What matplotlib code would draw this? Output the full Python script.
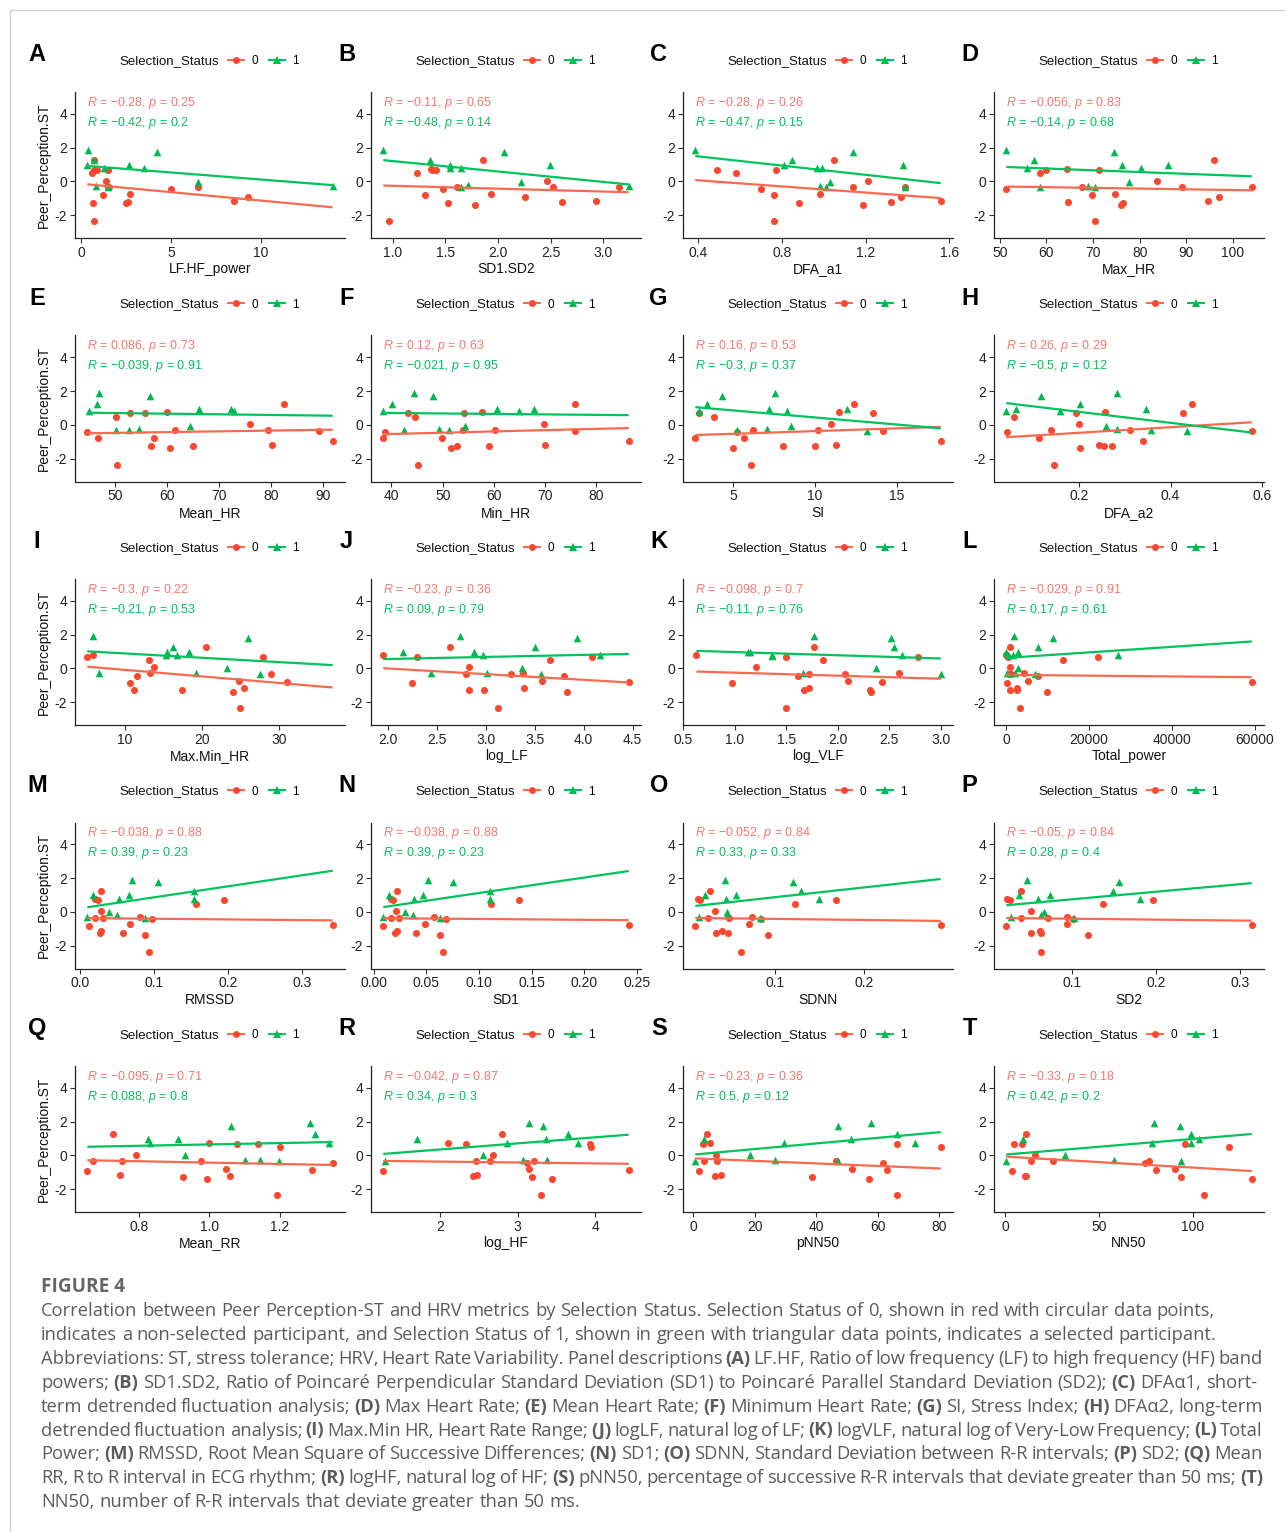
import re

import numpy as np
import matplotlib
matplotlib.use("Agg")
import matplotlib.pyplot as plt
from matplotlib import font_manager
from matplotlib.lines import Line2D
from matplotlib.patches import Rectangle


def _pick(names):
    have = {f.name for f in font_manager.fontManager.ttflist}
    for n in names:
        if n in have:
            return n
    return "DejaVu Sans"


PLOT_FONT = _pick(["Liberation Sans Narrow", "Liberation Sans", "Arial"])
BOLD_FONT = _pick(["Liberation Sans", "Arial"])
CAP_FONT = _pick(["Open Sans", "Lato", "Noto Sans"])

plt.rcParams["font.family"] = [PLOT_FONT, "DejaVu Sans"]
plt.rcParams["mathtext.fontset"] = "custom"
plt.rcParams["mathtext.rm"] = PLOT_FONT
plt.rcParams["mathtext.it"] = PLOT_FONT + ":italic"

RED_PT = "#F9482F"
RED_LN = "#F86A50"
RED_TXT = "#F8766D"
GRN_PT = "#00B84E"
GRN_LN = "#00C25C"
GRN_TXT = "#00C060"

# ---- data (group 0 = red circles, group 1 = green triangles)
lfhf_x0 = [0.7, 0.6, 0.7, 0.9, 1.5, 1.4, 1.5, 1.55, 1.2, 0.65, 0.7, 2.5, 2.6, 2.7, 5.0, 6.5, 8.5, 9.3]
lfhf_y0 = [1.27, 0.5, 0.7, 0.7, 0.7, 0.05, -0.3, -0.35, -0.78, -1.27, -2.35, -1.27, -1.2, -0.75, -0.43, -0.35, -1.18, -0.93]
lfhf_x1 = [0.4, 0.35, 0.75, 0.85, 1.27, 1.5, 2.67, 3.5, 4.2, 6.5, 14.0]
lfhf_y1 = [1.88, 0.95, 1.27, -0.25, 0.8, -0.35, 0.95, 0.8, 1.72, -0.05, -0.27]

sd12_x0 = [0.96, 1.23, 1.31, 1.36, 1.37, 1.41, 1.48, 1.52, 1.61, 1.78, 1.86, 1.93, 2.26, 2.46, 2.52, 2.61, 2.93, 3.15]
sd12_y0 = [-2.35, 0.5, -0.78, 0.75, 0.7, 0.7, -0.43, -1.27, -0.3, -1.37, 1.27, -0.75, -0.93, 0.05, -0.35, -1.22, -1.18, -0.35]
sd12_x1 = [0.91, 1.35, 1.54, 1.54, 1.65, 1.65, 1.71, 2.06, 2.22, 2.49, 3.24]
sd12_y1 = [1.88, 1.27, 0.95, 0.8, 0.8, -0.35, -0.2, 1.72, -0.05, 0.95, -0.27]

dfa1_x0 = [0.49, 0.58, 0.70, 0.76, 0.77, 0.76, 0.88, 0.98, 1.05, 1.14, 1.19, 1.21, 1.32, 1.37, 1.39, 1.56]
dfa1_y0 = [0.7, 0.5, -0.43, -0.78, 0.7, -2.35, -1.27, -0.75, 1.27, -0.35, -1.37, 0.05, -1.22, -0.93, -0.35, -1.18]
dfa1_x1 = [0.385, 0.81, 0.85, 0.97, 0.99, 0.98, 1.01, 1.03, 1.14, 1.38, 1.39]
dfa1_y1 = [1.88, 0.95, 1.27, 0.8, 0.8, -0.25, -0.35, -0.05, 1.72, 0.95, -0.3]

maxhr_x0 = [51.4, 58.6, 60, 64.4, 64.7, 67.6, 69.7, 70.4, 71.3, 74.8, 75.9, 76.5, 83.7, 89, 94.7, 96, 96.9, 104]
maxhr_y0 = [-0.43, 0.5, 0.7, 0.75, -1.22, -0.3, -0.78, -2.35, 0.7, -0.75, -1.37, -1.27, 0.05, -0.35, -1.18, 1.27, -0.93, -0.35]
maxhr_x1 = [51.4, 55.9, 57.3, 58.7, 68.9, 70.4, 74.4, 76.3, 77.8, 80.2, 86.1]
maxhr_y1 = [1.88, 0.8, 1.27, -0.3, -0.25, -0.35, 1.72, 0.95, -0.05, 0.8, 0.95]

meanhr_x0 = [44.6, 46.6, 50.2, 50.4, 52.8, 55.7, 56.9, 57.5, 60, 60.5, 61.5, 65, 75.8, 79.4, 80.2, 82.5, 89.1, 91.8]
meanhr_y0 = [-0.43, -0.78, 0.5, -2.35, 0.7, 0.7, -1.22, -0.75, 0.75, -1.37, -0.3, -1.27, 0.05, -0.3, -1.18, 1.27, -0.35, -0.93]
meanhr_x1 = [45, 46.4, 46.9, 50.2, 52.7, 54.6, 56.7, 64.4, 66, 72.3, 72.8]
meanhr_y1 = [0.8, 1.27, 1.88, -0.3, -0.3, -0.25, 1.72, -0.05, 0.95, 0.95, 0.8]

minhr_x0 = [38.4, 38.8, 43.2, 44.6, 45.2, 49.9, 51.7, 52.7, 54, 54.2, 57.7, 60.3, 59, 69.8, 69.9, 75.8, 75.8, 86.3]
minhr_y0 = [-0.78, -0.43, 0.7, 0.5, -2.35, -0.78, -1.37, -1.22, -0.3, 0.7, 0.75, -0.3, -1.27, 0.05, -1.18, 1.27, -0.35, -0.93]
minhr_x1 = [38.4, 40.2, 42.5, 44.4, 48.2, 51.3, 49.2, 54.4, 60.5, 64.8, 67.8]
minhr_y1 = [0.8, 1.27, -0.3, 1.88, 1.72, -0.3, -0.25, -0.05, 0.95, 0.8, 0.95]

si_x0 = [2.7, 2.95, 3.85, 5, 5.24, 5.65, 6.1, 6.2, 8.06, 10, 10.2, 11, 11.3, 11.5, 12.4, 13.55, 14.2, 17.7]
si_y0 = [-0.78, 0.7, 0.5, -1.37, -0.43, -0.75, -2.35, -0.3, -1.27, -1.22, -0.3, 0.05, -1.18, 0.75, 1.27, 0.7, -0.35, -0.93]
si_x1 = [2.9, 3.4, 4.35, 5.24, 7.1, 7.2, 7.6, 8.3, 8.55, 12, 13.2]
si_y1 = [0.8, 1.27, 1.72, -0.3, -0.25, 0.95, 1.88, 0.8, -0.05, 0.95, -0.35]

dfa2_x0 = [0.044, 0.058, 0.113, 0.14, 0.147, 0.195, 0.2, 0.203, 0.245, 0.255, 0.258, 0.272, 0.311, 0.341, 0.428, 0.446, 0.577]
dfa2_y0 = [-0.43, 0.5, -0.78, -0.3, -2.35, 0.7, 0.05, -1.37, -1.18, -1.27, 0.75, -1.22, -0.3, -0.93, 0.7, 1.27, -0.35]
dfa2_x1 = [0.042, 0.064, 0.118, 0.159, 0.203, 0.26, 0.284, 0.284, 0.346, 0.357, 0.436]
dfa2_y1 = [0.8, 0.95, 1.72, 0.8, 1.27, -0.05, 1.88, -0.25, 0.95, -0.3, -0.35]

mmhr_x0 = [5.1, 5.9, 10.7, 11.2, 11.6, 13.1, 13.2, 13.8, 17.4, 20.5, 24, 24.8, 24.9, 25.5, 27.9, 29, 31]
mmhr_y0 = [0.7, 0.8, -0.88, -1.25, -0.45, 0.5, -0.25, 0.1, -1.3, 1.27, -1.4, -0.75, -2.37, -1.15, 0.7, -0.3, -0.8]
mmhr_x1 = [5.9, 6.6, 15.3, 15.5, 16.3, 16.7, 18.3, 19.2, 23.2, 26, 27.5]
mmhr_y1 = [1.95, -0.28, 0.8, 1.0, 1.27, 0.8, 1.0, -0.25, 0.0, 1.78, -0.35]

loglf_x0 = [1.95, 2.24, 2.3, 2.63, 2.8, 2.83, 2.83, 2.98, 3.12, 3.26, 3.38, 3.39, 3.57, 3.65, 3.8, 3.83, 4.08, 4.46]
loglf_y0 = [0.8, -0.88, 0.7, 1.27, -0.3, 0.1, -1.25, -1.3, -2.37, -0.3, -0.25, -1.15, -0.75, 0.5, -0.45, -1.4, 0.7, -0.8]
loglf_x1 = [2.15, 2.44, 2.73, 2.88, 2.97, 3.01, 3.37, 3.5, 3.56, 3.93, 4.17]
loglf_y1 = [1.0, -0.28, 1.95, 1.0, 0.8, -0.25, 0.0, 1.27, -0.35, 1.78, 0.8]

logvlf_x0 = [0.63, 0.98, 1.21, 1.5, 1.5, 1.62, 1.67, 1.72, 1.72, 1.77, 1.86, 2.07, 2.1, 2.31, 2.32, 2.43, 2.59, 2.78]
logvlf_y0 = [0.8, -0.88, 0.1, 0.7, -2.37, -0.45, -1.3, -1.15, -0.3, 1.27, 0.5, -0.3, -0.75, -1.25, -1.4, -0.8, -0.25, 0.7]
logvlf_x1 = [1.13, 1.15, 1.36, 1.36, 1.66, 1.77, 2.37, 2.52, 2.55, 2.62, 3.0]
logvlf_y1 = [1.0, 0.95, 0.8, 0.75, -0.25, 1.95, 0.0, 1.78, 1.27, 0.8, -0.35]

tp_x0 = [0, 100, 300, 950, 950, 950, 1240, 760, 2480, 2670, 3330, 4290, 5240, 7620, 9810, 13700, 22200, 59300]
tp_y0 = [0.8, -0.88, 0.7, 1.27, 0.1, -1.25, -0.3, -0.35, -1.3, -1.15, -2.37, -0.25, -0.75, -0.45, -1.4, 0.5, 0.7, -0.8]
tp_x1 = [0, 100, 480, 1520, 1900, 2190, 2860, 2860, 6950, 7710, 11400, 27000]
tp_y1 = [1.0, -0.25, 0.8, 0.8, 1.95, -0.25, 1.0, 0.0, -0.35, 1.27, 1.78, 0.8]

rmssd_x0 = [0.013, 0.02, 0.024, 0.02, 0.027, 0.028, 0.029, 0.029, 0.031, 0.058, 0.068, 0.081, 0.088, 0.093, 0.097, 0.157, 0.195, 0.342]
rmssd_y0 = [-0.86, 0.75, 0.7, -0.33, -1.22, 0.05, -1.12, 1.27, -0.33, -1.25, -0.73, -0.3, -1.35, -2.35, -0.43, 0.5, 0.7, -0.77]
rmssd_x1 = [0.01, 0.018, 0.04, 0.05, 0.053, 0.066, 0.071, 0.088, 0.106, 0.155, 0.155]
rmssd_y1 = [-0.28, 0.98, 0.0, -0.2, 0.75, 1.0, 1.92, -0.33, 1.77, 1.27, 0.75]

sd1_x0 = [0.009, 0.016, 0.018, 0.016, 0.02, 0.021, 0.022, 0.022, 0.024, 0.04, 0.049, 0.057, 0.063, 0.066, 0.069, 0.111, 0.138, 0.242]
sd1_y0 = [-0.86, 0.75, 0.7, -0.33, -1.22, 0.05, -1.12, 1.27, -0.33, -1.25, -0.73, -0.3, -1.35, -2.35, -0.43, 0.5, 0.7, -0.77]
sd1_x1 = [0.009, 0.014, 0.03, 0.037, 0.038, 0.047, 0.051, 0.063, 0.075, 0.11, 0.11]
sd1_y1 = [-0.28, 0.98, 0.0, -0.2, 0.75, 1.0, 1.92, -0.33, 1.77, 1.27, 0.75]

sdnn_x0 = [0.011, 0.014, 0.016, 0.025, 0.027, 0.033, 0.034, 0.041, 0.048, 0.049, 0.062, 0.071, 0.074, 0.085, 0.092, 0.123, 0.169, 0.286]
sdnn_y0 = [-0.86, 0.75, 0.7, -0.33, 1.27, 0.05, -1.22, -1.12, -1.25, -0.33, -2.35, -0.73, -0.3, -0.43, -1.35, 0.5, 0.7, -0.77]
sdnn_x1 = [0.015, 0.022, 0.044, 0.045, 0.047, 0.047, 0.057, 0.083, 0.121, 0.13, 0.15]
sdnn_y1 = [-0.28, 0.98, 1.92, 0.75, 0.0, -0.2, 1.0, -0.33, 1.77, 1.27, 0.75]

sd2_x0 = [0.021, 0.022, 0.025, 0.038, 0.039, 0.05, 0.051, 0.061, 0.062, 0.063, 0.071, 0.094, 0.094, 0.101, 0.119, 0.137, 0.196, 0.314]
sd2_y0 = [-0.86, 0.75, 0.7, -0.33, 1.27, 0.05, -1.22, -1.12, -1.25, -2.35, -0.33, -0.3, -0.73, -0.43, -1.35, 0.5, 0.7, -0.77]
sd2_x1 = [0.027, 0.036, 0.046, 0.059, 0.063, 0.066, 0.073, 0.102, 0.148, 0.155, 0.181]
sd2_y1 = [-0.28, 0.98, 1.92, 0.75, -0.2, 0.0, 1.0, -0.33, 1.27, 1.77, 0.75]

meanrr_x0 = [0.653, 0.669, 0.725, 0.746, 0.752, 0.79, 0.925, 0.977, 0.994, 1.0, 1.046, 1.057, 1.078, 1.138, 1.192, 1.2, 1.29, 1.35]
meanrr_y0 = [-0.93, -0.35, 1.28, -1.17, -0.35, 0.05, -1.27, -0.3, -1.37, 0.75, -0.8, -1.22, 0.7, 0.7, -2.37, 0.5, -0.85, -0.45]
meanrr_x1 = [0.826, 0.83, 0.91, 0.93, 1.06, 1.10, 1.144, 1.197, 1.286, 1.3, 1.338]
meanrr_y1 = [0.98, 0.75, 0.98, 0.0, 1.75, -0.25, -0.28, -0.3, 1.93, 1.25, 0.75]

loghf_x0 = [1.27, 2.1, 2.33, 2.42, 2.46, 2.48, 2.64, 2.68, 2.8, 3.12, 3.15, 3.19, 3.21, 3.3, 3.44, 3.93, 3.95, 4.43]
loghf_y0 = [-0.93, 0.75, 0.7, -1.22, -0.35, -1.17, -0.35, 0.05, 1.28, -0.45, -0.8, -1.27, -0.3, -2.37, -1.37, 0.7, 0.5, -0.85]
loghf_x1 = [1.29, 1.71, 2.56, 2.86, 3.07, 3.15, 3.33, 3.37, 3.38, 3.65, 3.78]
loghf_y1 = [-0.3, 0.98, 0.0, 0.75, -0.25, 1.93, 1.75, 0.98, -0.28, 1.25, 0.75]

pnn50_x0 = [1.7, 3.2, 3.6, 4.5, 5.3, 7.1, 7.4, 7.7, 9.0, 38.5, 46.3, 51.7, 57.2, 61.7, 62.9, 66.2, 66.2, 80.5]
pnn50_y0 = [-0.93, 0.7, -0.35, 1.28, 0.75, -1.22, 0.05, -0.35, -1.17, -1.27, -0.3, -0.8, -1.37, -0.45, -0.85, 0.7, -2.37, 0.5]
pnn50_x1 = [0.6, 3.6, 18.3, 26.4, 29.5, 46.9, 47.2, 51.4, 57.7, 66.2, 72.2]
pnn50_y1 = [-0.3, 0.98, 0.0, -0.25, 0.75, 1.75, -0.33, 0.98, 1.93, 1.25, 0.75]

nn50_x0 = [3.6, 4.6, 8.8, 10.5, 10.9, 10.9, 13.7, 15.8, 25.3, 74.7, 76.8, 80.4, 90.5, 94.1, 95.8, 106.3, 119.4, 131.6]
nn50_y0 = [-0.93, 0.7, 0.7, -1.2, -1.22, 1.28, -0.35, 0.05, -0.35, -0.45, -0.3, -0.85, -0.8, -1.27, 0.7, -2.37, 0.5, -1.37]
nn50_x1 = [0.6, 9.5, 32.2, 57.9, 78.5, 79.6, 93.3, 94.1, 99, 99, 103.2]
nn50_y1 = [-0.3, 0.95, 0.0, -0.25, 0.75, 1.93, 1.75, -0.33, 1.25, 0.75, 0.98]

PANEL_LETTERS = list("ABCDEFGHIJKLMNOPQRST")
X_LABELS = ["LF.HF_power", "SD1.SD2", "DFA_a1", "Max_HR", "Mean_HR", "Min_HR", "SI", "DFA_a2",
            "Max.Min_HR", "log_LF", "log_VLF", "Total_power", "RMSSD", "SD1", "SDNN", "SD2",
            "Mean_RR", "log_HF", "pNN50", "NN50"]
X_TICKS = [
    ["0", "5", "10"], ["1.0", "1.5", "2.0", "2.5", "3.0"], ["0.4", "0.8", "1.2", "1.6"],
    ["50", "60", "70", "80", "90", "100"], ["50", "60", "70", "80", "90"], ["40", "50", "60", "70", "80"],
    ["5", "10", "15"], ["0.2", "0.4", "0.6"], ["10", "20", "30"],
    ["2.0", "2.5", "3.0", "3.5", "4.0", "4.5"], ["0.5", "1.0", "1.5", "2.0", "2.5", "3.0"],
    ["0", "20000", "40000", "60000"], ["0.0", "0.1", "0.2", "0.3"],
    ["0.00", "0.05", "0.10", "0.15", "0.20", "0.25"], ["0.1", "0.2"], ["0.1", "0.2", "0.3"],
    ["0.8", "1.0", "1.2"], ["2", "3", "4"], ["0", "20", "40", "60", "80"], ["0", "50", "100"],
]
# x value seen by the scale but with no point drawn (Max.Min_HR reaches 37)
X_EXTENT = [None] * 8 + [37.0] + [None] * 11

R_RED = ["−0.28", "−0.11", "−0.28", "−0.056", "0.086", "0.12", "0.16", "0.26", "−0.3", "−0.23",
         "−0.098", "−0.029", "−0.038", "−0.038", "−0.052", "−0.05", "−0.095", "−0.042", "−0.23", "−0.33"]
P_RED = ["0.25", "0.65", "0.26", "0.83", "0.73", "0.63", "0.53", "0.29", "0.22", "0.36",
         "0.7", "0.91", "0.88", "0.88", "0.84", "0.84", "0.71", "0.87", "0.36", "0.18"]
R_GRN = ["−0.42", "−0.48", "−0.47", "−0.14", "−0.039", "−0.021", "−0.3", "−0.5", "−0.21", "0.09",
         "−0.11", "0.17", "0.39", "0.39", "0.33", "0.28", "0.088", "0.34", "0.5", "0.42"]
P_GRN = ["0.2", "0.14", "0.15", "0.68", "0.91", "0.95", "0.37", "0.12", "0.53", "0.79",
         "0.76", "0.61", "0.23", "0.23", "0.33", "0.4", "0.8", "0.3", "0.12", "0.2"]

PANELS = [
    (lfhf_x0, lfhf_y0, lfhf_x1, lfhf_y1), (sd12_x0, sd12_y0, sd12_x1, sd12_y1),
    (dfa1_x0, dfa1_y0, dfa1_x1, dfa1_y1), (maxhr_x0, maxhr_y0, maxhr_x1, maxhr_y1),
    (meanhr_x0, meanhr_y0, meanhr_x1, meanhr_y1), (minhr_x0, minhr_y0, minhr_x1, minhr_y1),
    (si_x0, si_y0, si_x1, si_y1), (dfa2_x0, dfa2_y0, dfa2_x1, dfa2_y1),
    (mmhr_x0, mmhr_y0, mmhr_x1, mmhr_y1), (loglf_x0, loglf_y0, loglf_x1, loglf_y1),
    (logvlf_x0, logvlf_y0, logvlf_x1, logvlf_y1), (tp_x0, tp_y0, tp_x1, tp_y1),
    (rmssd_x0, rmssd_y0, rmssd_x1, rmssd_y1), (sd1_x0, sd1_y0, sd1_x1, sd1_y1),
    (sdnn_x0, sdnn_y0, sdnn_x1, sdnn_y1), (sd2_x0, sd2_y0, sd2_x1, sd2_y1),
    (meanrr_x0, meanrr_y0, meanrr_x1, meanrr_y1), (loghf_x0, loghf_y0, loghf_x1, loghf_y1),
    (pnn50_x0, pnn50_y0, pnn50_x1, pnn50_y1), (nn50_x0, nn50_y0, nn50_x1, nn50_y1),
]

CAPTION_TITLE = "FIGURE 4"
CAPTION_LINES = [
    "Correlation between Peer Perception-ST and HRV metrics by Selection Status. Selection Status of 0, shown in red with circular data points,",
    "indicates a non-selected participant, and Selection Status of 1, shown in green with triangular data points, indicates a selected participant.",
    "Abbreviations: ST, stress tolerance; HRV, Heart Rate Variability. Panel descriptions (A) LF.HF, Ratio of low frequency (LF) to high frequency (HF) band",
    "powers; (B) SD1.SD2, Ratio of Poincaré Perpendicular Standard Deviation (SD1) to Poincaré Parallel Standard Deviation (SD2); (C) DFAα1, short-",
    "term detrended fluctuation analysis; (D) Max Heart Rate; (E) Mean Heart Rate; (F) Minimum Heart Rate; (G) SI, Stress Index; (H) DFAα2, long-term",
    "detrended fluctuation analysis; (I) Max.Min HR, Heart Rate Range; (J) logLF, natural log of LF; (K) logVLF, natural log of Very-Low Frequency; (L) Total",
    "Power; (M) RMSSD, Root Mean Square of Successive Differences; (N) SD1; (O) SDNN, Standard Deviation between R-R intervals; (P) SD2; (Q) Mean",
    "RR, R to R interval in ECG rhythm; (R) logHF, natural log of HF; (S) pNN50, percentage of successive R-R intervals that deviate greater than 50 ms; (T)",
    "NN50, number of R-R intervals that deviate greater than 50 ms.",
]
CAPTION_JUSTIFY = [False, False, True, False, True, True, True, True, False]

# ---- layout (pixels)
W, H = 1285, 1532
COL_LEFT = [75, 371, 683, 994]
AX_W, AX_H = 270, 146
ROW_TOP, ROW_STEP = 92, 243.5


def _panel(fig, i):
    row, col = divmod(i, 4)
    left = COL_LEFT[col]
    top = ROW_TOP + row * ROW_STEP
    ax = fig.add_axes([left / W, 1 - (top + AX_H) / H, AX_W / W, AX_H / H])
    x0, y0, x1, y1 = PANELS[i]

    ax.scatter(x0, y0, s=26, marker="o", color=RED_PT, linewidths=0, zorder=2)
    ax.scatter(x1, y1, s=30, marker="^", color=GRN_PT, linewidths=0, zorder=2)

    allx = list(x0) + list(x1) + ([X_EXTENT[i]] if X_EXTENT[i] is not None else [])
    lo, hi = min(allx), max(allx)
    xs = np.array([lo, hi])
    for xx, yy, c in ((x0, y0, RED_LN), (x1, y1, GRN_LN)):
        k, b = np.polyfit(xx, yy, 1)
        ax.plot(xs, k * xs + b, color=c, lw=1.6, zorder=3, solid_capstyle="butt")

    pad = (hi - lo) * 0.05
    ax.set_xlim(lo - pad, hi + pad)
    ax.set_ylim(-3.35, 5.3)
    ax.set_yticks([-2, 0, 2, 4])
    ax.set_yticklabels(["-2", "0", "2", "4"])
    ticks = X_TICKS[i]
    ax.set_xticks([float(t) for t in ticks])
    ax.set_xticklabels(ticks)

    for s in ("top", "right"):
        ax.spines[s].set_visible(False)
    for s in ("left", "bottom"):
        ax.spines[s].set_linewidth(0.9)
        ax.spines[s].set_color("#222222")
    ax.tick_params(direction="out", length=3.5, width=0.8, color="#333333",
                   labelsize=10, labelcolor="#222222", pad=2)
    ax.set_xlabel(X_LABELS[i], fontsize=10, labelpad=2, color="#111111")
    if col == 0:
        ax.set_ylabel("Peer_Perception.ST", fontsize=10, labelpad=3, color="#111111")

    ax.text(0.044, 0.925, r"$\mathit{R}$ = " + R_RED[i] + r", $\mathit{p}$ = " + P_RED[i],
            transform=ax.transAxes, fontsize=9, color=RED_TXT, va="center", ha="left")
    ax.text(0.044, 0.788, r"$\mathit{R}$ = " + R_GRN[i] + r", $\mathit{p}$ = " + P_GRN[i],
            transform=ax.transAxes, fontsize=9, color=GRN_TXT, va="center", ha="left")

    lx = -0.141 if col == 0 else -0.09
    ax.text(lx, 1.255, PANEL_LETTERS[i], transform=ax.transAxes, fontsize=17,
            fontweight="bold", family=BOLD_FONT, ha="center", va="center", color="black")

    ax.text(0.348, 1.212, "Selection_Status", transform=ax.transAxes, fontsize=9.5,
            ha="center", va="center", color="#111111")
    handles = [Line2D([], [], color=RED_LN, lw=1.5, marker="o", markersize=5,
                      markerfacecolor=RED_PT, markeredgewidth=0),
               Line2D([], [], color=GRN_LN, lw=1.5, marker="^", markersize=5.5,
                      markerfacecolor=GRN_PT, markeredgewidth=0)]
    ax.legend(handles, ["0", "1"], ncol=2, loc="center left", bbox_to_anchor=(0.566, 1.212),
              frameon=False, fontsize=8.5, handlelength=1.4, handletextpad=0.6,
              columnspacing=0.9, borderpad=0, borderaxespad=0)


def _caption(fig):
    rend = fig.canvas.get_renderer()

    def width(s, bold, fs):
        t = fig.text(0, 0, s, fontsize=fs, family=CAP_FONT,
                     fontweight="bold" if bold else "normal")
        w = t.get_window_extent(rend).width
        t.remove()
        return w

    base = 11.0
    fs = base * 1181 / width(CAPTION_LINES[0], False, base)
    space = width("a a", False, fs) - width("aa", False, fs)
    x_left, x_right = 41, 1263

    fig.text(x_left / W, 1 - 1287 / H, CAPTION_TITLE, fontsize=fs * 1.03, family=CAP_FONT,
             fontweight="bold", color="#666666", va="center", ha="left")
    for li, line in enumerate(CAPTION_LINES):
        y = 1311 + li * 23.9
        words = line.split(" ")
        bolds = [bool(re.fullmatch(r"\([A-T]\)", w)) for w in words]
        ws = [width(w, b, fs) for w, b in zip(words, bolds)]
        if CAPTION_JUSTIFY[li] and len(words) > 1:
            gap = (x_right - x_left - sum(ws)) / (len(words) - 1)
        else:
            gap = space
        x = x_left
        for w, b, wd in zip(words, bolds, ws):
            fig.text(x / W, 1 - y / H, w, fontsize=fs, family=CAP_FONT,
                     fontweight="bold" if b else "normal", color="#5c5c5c",
                     va="center", ha="left")
            x += wd + gap


fig = plt.figure(figsize=(W / 100, H / 100), dpi=100)
fig.patch.set_facecolor("white")
fig.add_artist(Rectangle((10 / W, -0.01), 1.0, 1 - 10 / H + 0.01, transform=fig.transFigure,
                         fill=False, edgecolor="#cfcfcf", lw=1.0))
for i in range(20):
    _panel(fig, i)
_caption(fig)

fig.savefig("out.png", dpi=100, facecolor="white")
